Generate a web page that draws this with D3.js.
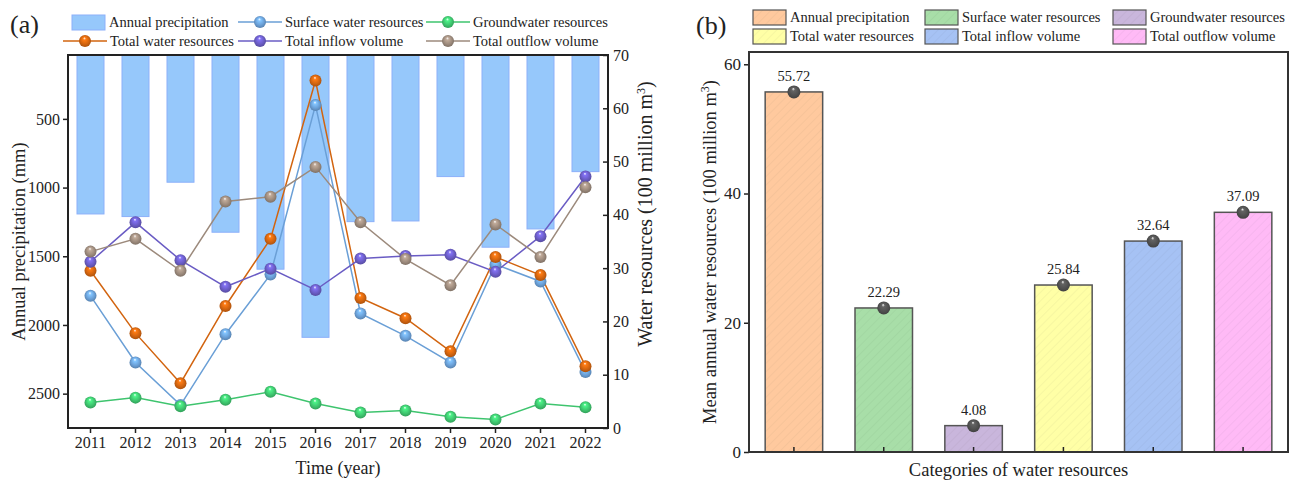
<!DOCTYPE html>
<html>
<head>
<meta charset="utf-8">
<script src="https://cdn.jsdelivr.net/npm/d3@7"></script>
<style>
  body { margin: 0; background: #fff; }
  svg, svg text { font-family: "Liberation Serif", "Times New Roman", serif; }
</style>
</head>
<body>
<div id="chart"></div>
<script>
// données
const years = [2011, 2012, 2013, 2014, 2015, 2016, 2017, 2018, 2019, 2020, 2021, 2022];
const precipitation = [1192, 1211, 961, 1325, 1594, 2090, 1248, 1243, 920, 1434, 1301, 884];
const surface = [24.8, 12.3, 4.3, 17.6, 28.8, 60.6, 21.5, 17.3, 12.3, 30.7, 27.5, 10.5];
const ground = [4.8, 5.7, 4.1, 5.3, 6.8, 4.6, 2.9, 3.3, 2.1, 1.6, 4.6, 3.9];
const total = [29.5, 17.8, 8.4, 22.9, 35.5, 65.2, 24.4, 20.6, 14.4, 32.1, 28.7, 11.6];
const inflow = [31.2, 38.6, 31.5, 26.5, 29.9, 25.9, 31.8, 32.3, 32.5, 29.3, 36.0, 47.2];
const outflow = [33.1, 35.5, 29.5, 42.5, 43.4, 49.0, 38.6, 31.7, 26.8, 38.2, 32.1, 45.2];

const precipTicks = [500, 1000, 1500, 2000, 2500];
const waterTicks = [0, 10, 20, 30, 40, 50, 60, 70];

const categories = ['Annual precipitation', 'Surface water resources', 'Groundwater resources',
  'Total water resources', 'Total inflow volume', 'Total outflow volume'];
const means = [55.72, 22.29, 4.08, 25.84, 32.64, 37.09];
const meanTicks = [0, 20, 40, 60];

const lineColors = ['#6a9fd6', '#3ec46e', '#d2640f', '#6a5cc4', '#9c8a7c'];
const barColors = ['#ffc99e', '#a8dea8', '#c9b6dc', '#ffffa6', '#a6c2f4', '#ffbaf6'];
const precipFill = '#96c8fb';
const precipStroke = '#8cb0fa';
const FONT = '"Liberation Serif", "Times New Roman", serif';

const W = 1293, H = 481;
const svg = d3.select('#chart').append('svg').attr('width', W).attr('height', H);
const defs = svg.append('defs');

// dégradés pour les sphères
function sphere(id, c) {
  const col = d3.color(c);
  const g = defs.append('radialGradient').attr('id', id)
    .attr('cx', '50%').attr('cy', '50%').attr('r', '55%')
    .attr('fx', '45%').attr('fy', '25%');
  g.append('stop').attr('offset', '0%').attr('stop-color', '#ffffff');
  g.append('stop').attr('offset', '22%').attr('stop-color', col.brighter(0.6).formatHex());
  g.append('stop').attr('offset', '65%').attr('stop-color', col.formatHex());
  g.append('stop').attr('offset', '100%').attr('stop-color', col.darker(0.7).formatHex());
  return `url(#${id})`;
}
const sphereFills = lineColors.map((c, i) => sphere('sp' + i, c));
const greySphere = sphere('spg', '#505050');

// hachures des barres
const hatchFills = barColors.map((c, i) => {
  const p = defs.append('pattern').attr('id', 'h' + i)
    .attr('patternUnits', 'userSpaceOnUse').attr('width', 6).attr('height', 6)
    .attr('patternTransform', 'rotate(45)');
  p.append('rect').attr('width', 6).attr('height', 6).attr('fill', c);
  p.append('line').attr('x1', 0).attr('y1', 0).attr('x2', 0).attr('y2', 6)
    .attr('stroke', d3.color(c).darker(0.6).formatHex()).attr('stroke-width', 1).attr('stroke-opacity', 0.35);
  return `url(#h${i})`;
});

function styleAxis(a, size) {
  a.attr('font-family', FONT).attr('font-size', size);
  a.select('.domain').remove();
  a.selectAll('.tick line').attr('stroke', '#222').attr('stroke-width', 1.5);
  a.selectAll('.tick text').attr('fill', '#222').style('font-family', FONT).style('font-size', size + 'px');
}

// ---------- panneau (a) ----------
const A = { left: 68, right: 608, top: 55, bottom: 428 };

const x = d3.scaleBand().domain(years).range([A.left, A.right]).paddingInner(0.4).paddingOuter(0.2);
const yP = d3.scaleLinear().domain([35, 2750]).range([A.top, A.bottom]);
const yW = d3.scaleLinear().domain([0, 70]).range([A.bottom, A.top]);

const ga = svg.append('g');

// barres de précipitation (pendantes depuis le haut)
ga.selectAll('.pbar').data(precipitation).enter().append('rect')
  .attr('class', 'pbar')
  .attr('x', (d, i) => x(years[i]))
  .attr('y', yP.range()[0])
  .attr('width', x.bandwidth())
  .attr('height', d => yP(d) - yP.range()[0])
  .attr('fill', precipFill)
  .attr('stroke', precipStroke)
  .attr('stroke-width', 1);

const series = [surface, ground, total, inflow, outflow];
const cx = y => x(y) + x.bandwidth() / 2;
const line = d3.line().x((d, i) => cx(years[i])).y(d => yW(d));

series.forEach((s, k) => {
  ga.append('path').datum(s)
    .attr('d', line)
    .attr('fill', 'none')
    .attr('stroke', lineColors[k])
    .attr('stroke-width', 1.5);
});
series.forEach((s, k) => {
  ga.selectAll('.pt' + k).data(s).enter().append('circle')
    .attr('cx', (d, i) => cx(years[i]))
    .attr('cy', d => yW(d))
    .attr('r', 6)
    .attr('fill', sphereFills[k]);
});

// axes
const axL = ga.append('g').attr('transform', `translate(${A.left},0)`)
  .call(d3.axisLeft(yP).tickValues(precipTicks).tickFormat(d3.format('d')).tickSize(5).tickPadding(3));
const axR = ga.append('g').attr('transform', `translate(${A.right},0)`)
  .call(d3.axisRight(yW).tickValues(waterTicks).tickSize(-5).tickPadding(5));
const axB = ga.append('g').attr('transform', `translate(0,${A.bottom})`)
  .call(d3.axisBottom(x).tickSize(5).tickPadding(4));
[axL, axR, axB].forEach(a => styleAxis(a, 16));

ga.append('rect')
  .attr('x', A.left).attr('y', A.top)
  .attr('width', A.right - A.left).attr('height', A.bottom - A.top)
  .attr('fill', 'none').attr('stroke', '#222').attr('stroke-width', 2);

ga.append('text').attr('x', (A.left + A.right) / 2).attr('y', 474)
  .attr('text-anchor', 'middle').attr('font-size', 18).attr('fill', '#222').text('Time (year)');
ga.append('text').attr('transform', `translate(25,${(A.top + A.bottom) / 2}) rotate(-90)`)
  .attr('text-anchor', 'middle').attr('font-size', 18.5).attr('fill', '#222').text('Annual precipitation (mm)');
const rt = ga.append('text').attr('transform', `translate(652,214) rotate(-90)`)
  .attr('text-anchor', 'middle').attr('font-size', 20).attr('fill', '#222');
rt.append('tspan').text('Water resources (100 million m');
rt.append('tspan').attr('dy', -7).attr('font-size', 12).text('3');
rt.append('tspan').attr('dy', 7).text(')');

svg.append('text').attr('x', 10).attr('y', 33).attr('font-size', 26).attr('fill', '#222').text('(a)');

// légende (a)
const legA = [
  { label: 'Annual precipitation', type: 'bar', x: 72, y: 22 },
  { label: 'Surface water resources', type: 0, x: 238, y: 22 },
  { label: 'Groundwater resources', type: 1, x: 426, y: 22 },
  { label: 'Total water resources', type: 2, x: 63, y: 41 },
  { label: 'Total inflow volume', type: 3, x: 238, y: 41 },
  { label: 'Total outflow volume', type: 4, x: 426, y: 41 }
];
legA.forEach(l => {
  let tx;
  if (l.type === 'bar') {
    svg.append('rect').attr('x', l.x).attr('y', l.y - 7).attr('width', 33).attr('height', 15)
      .attr('fill', precipFill).attr('stroke', precipStroke);
    tx = l.x + 37;
  } else {
    svg.append('line').attr('x1', l.x).attr('x2', l.x + 44).attr('y1', l.y).attr('y2', l.y)
      .attr('stroke', lineColors[l.type]).attr('stroke-width', 1.5);
    svg.append('circle').attr('cx', l.x + 22).attr('cy', l.y).attr('r', 6).attr('fill', sphereFills[l.type]);
    tx = l.x + 47;
  }
  svg.append('text').attr('x', tx).attr('y', l.y + 5).attr('font-size', 14.5).attr('fill', '#222').text(l.label);
});

// ---------- panneau (b) ----------
const B = { left: 749, right: 1288, top: 52, bottom: 452 };
const xb = d3.scaleBand().domain(categories).range([B.left, B.right]).paddingInner(0.36).paddingOuter(0.18);
const yb = d3.scaleLinear().domain([0, 61.9]).range([B.bottom, B.top]);

const gb = svg.append('g');
gb.selectAll('.mbar').data(means).enter().append('rect')
  .attr('x', (d, i) => xb(categories[i]))
  .attr('y', d => yb(d))
  .attr('width', xb.bandwidth())
  .attr('height', d => yb(0) - yb(d))
  .attr('fill', (d, i) => hatchFills[i])
  .attr('stroke', '#555').attr('stroke-width', 1.5);

gb.selectAll('.mpt').data(means).enter().append('circle')
  .attr('cx', (d, i) => xb(categories[i]) + xb.bandwidth() / 2)
  .attr('cy', d => yb(d))
  .attr('r', 6.5)
  .attr('fill', greySphere);

gb.selectAll('.mlab').data(means).enter().append('text')
  .attr('x', (d, i) => xb(categories[i]) + xb.bandwidth() / 2)
  .attr('y', d => yb(d) - 11)
  .attr('text-anchor', 'middle').attr('font-size', 14.5).attr('fill', '#222')
  .text(d => d.toFixed(2));

const bL = gb.append('g').attr('transform', `translate(${B.left},0)`)
  .call(d3.axisLeft(yb).tickValues(meanTicks).tickSize(5).tickPadding(3));
const bB = gb.append('g').attr('transform', `translate(0,${B.bottom})`)
  .call(d3.axisBottom(xb).tickSize(-5).tickFormat(''));
[bL, bB].forEach(a => styleAxis(a, 17));

gb.append('rect')
  .attr('x', B.left).attr('y', B.top)
  .attr('width', B.right - B.left).attr('height', B.bottom - B.top)
  .attr('fill', 'none').attr('stroke', '#333').attr('stroke-width', 2);

gb.append('text').attr('x', (B.left + B.right) / 2).attr('y', 476)
  .attr('text-anchor', 'middle').attr('font-size', 18.5).attr('fill', '#222').text('Categories of water resources');
const bt = gb.append('text').attr('transform', `translate(716,${(B.top + B.bottom) / 2}) rotate(-90)`)
  .attr('text-anchor', 'middle').attr('font-size', 18.5).attr('fill', '#222');
bt.append('tspan').text('Mean annual water resources (100 million m');
bt.append('tspan').attr('dy', -7).attr('font-size', 12).text('3');
bt.append('tspan').attr('dy', 7).text(')');

svg.append('text').attr('x', 696).attr('y', 34).attr('font-size', 26).attr('fill', '#222').text('(b)');

// légende (b)
const legB = [
  { x: 753, y: 17 }, { x: 925, y: 17 }, { x: 1113, y: 17 },
  { x: 753, y: 36 }, { x: 925, y: 36 }, { x: 1113, y: 36 }
];
legB.forEach((l, i) => {
  svg.append('rect').attr('x', l.x).attr('y', l.y - 7).attr('width', 33).attr('height', 15)
    .attr('fill', hatchFills[i]).attr('stroke', '#555').attr('stroke-width', 1.2);
  svg.append('text').attr('x', l.x + 37).attr('y', l.y + 5).attr('font-size', 14.5).attr('fill', '#222')
    .text(categories[i]);
});
</script>
</body>
</html>
